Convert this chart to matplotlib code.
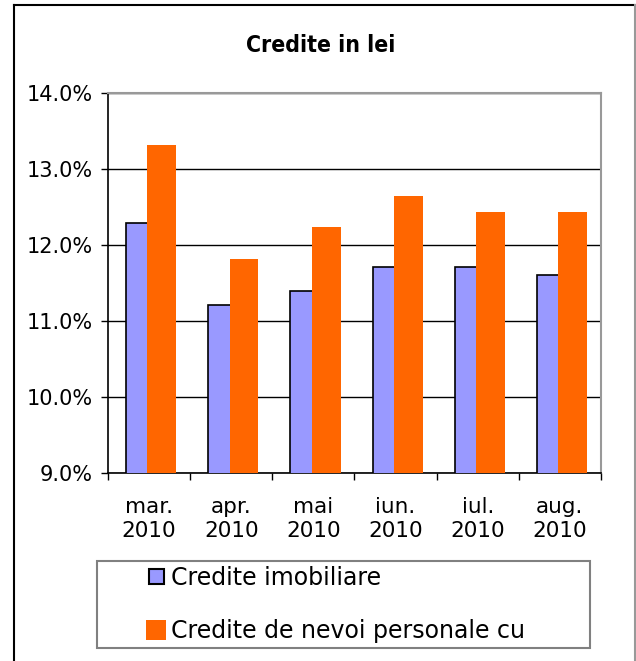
import numpy as np
import matplotlib
matplotlib.use('Agg')
from matplotlib import pyplot as plt
from matplotlib.patches import Rectangle
from matplotlib.lines import Line2D
from matplotlib.ticker import FuncFormatter

# data
months = ['mar.\n2010', 'apr.\n2010', 'mai\n2010', 'iun.\n2010', 'iul.\n2010', 'aug.\n2010']
imobiliare = [12.29, 11.21, 11.39, 11.71, 11.71, 11.60]
nevoi_personale = [13.32, 11.82, 12.24, 12.64, 12.43, 12.43]
series_names = ['Credite imobiliare', 'Credite de nevoi personale cu']
series_colors = ['#9999FF', '#FF6600']
title = 'Credite in lei'

W, H = 636, 661
fig = plt.figure(figsize=(W / 100, H / 100), dpi=100)
ax = fig.add_axes([108 / W, 1 - 473 / H, (601 - 108) / W, (473 - 93) / H])

x = np.arange(len(months))
width = 0.35
ax.bar(x - 0.105, imobiliare, width, color=series_colors[0], edgecolor='black', linewidth=1.2, zorder=3)
ax.bar(x + 0.155, nevoi_personale, width, color=series_colors[1], edgecolor='none', zorder=4)

ax.set_ylim(9, 14)
ax.set_xlim(-0.5, len(months) - 0.5)
ax.set_yticks(np.arange(9, 14.01, 1))
ax.yaxis.set_major_formatter(FuncFormatter(lambda v, p: '%.1f%%' % v))
ax.yaxis.grid(True, color='black', linewidth=1, zorder=0)

# ticks between categories, labels in the middle
ax.set_xticks(np.arange(-0.5, len(months), 1))
ax.set_xticklabels([])
ax.set_xticks(x, minor=True)
ax.set_xticklabels(months, minor=True, fontsize=15.5)
ax.tick_params(axis='x', which='minor', length=0, pad=17)
ax.tick_params(axis='x', which='major', direction='out', length=5, width=1)
ax.tick_params(axis='y', direction='out', length=5, width=1, labelsize=15, pad=6)
for lab in ax.get_xticklabels(minor=True):
    lab.set_linespacing(1.25)

for s in ['top', 'right']:
    ax.spines[s].set_color('#999999')
    ax.spines[s].set_linewidth(1.5)
for s in ['left', 'bottom']:
    ax.spines[s].set_color('black')
    ax.spines[s].set_linewidth(1.2)

fig.text(321 / W, 1 - 46 / H, title, fontsize=16.5, fontweight='bold',
         fontstretch='condensed', ha='center', va='center')

# legend box with its entries
fig.patches.append(Rectangle((97 / W, 1 - 648 / H), (590 - 97) / W, (648 - 561) / H,
                             transform=fig.transFigure, fill=False,
                             edgecolor='#808080', linewidth=1.5))
fig.patches.append(Rectangle((148.5 / W, 1 - 583.5 / H), 15 / W, 15 / H,
                             transform=fig.transFigure, facecolor=series_colors[0],
                             edgecolor='black', linewidth=1.5))
fig.patches.append(Rectangle((146 / W, 1 - 640 / H), 20 / W, 20 / H,
                             transform=fig.transFigure, facecolor=series_colors[1],
                             edgecolor='none'))
fig.text(171 / W, 1 - 578 / H, series_names[0], fontsize=17, va='center', ha='left')
fig.text(171 / W, 1 - 631 / H, series_names[1], fontsize=17, va='center', ha='left')

# outer chart border
fig.add_artist(Line2D([14 / W, 14 / W], [0, 1 - 5 / H], transform=fig.transFigure, color='black', linewidth=1.5))
fig.add_artist(Line2D([14 / W, 1], [1 - 5 / H, 1 - 5 / H], transform=fig.transFigure, color='black', linewidth=1.5))
fig.add_artist(Line2D([635 / W, 635 / W], [0, 1 - 5 / H], transform=fig.transFigure, color='#999999', linewidth=1.5))

plt.savefig('out.png', dpi=100)
